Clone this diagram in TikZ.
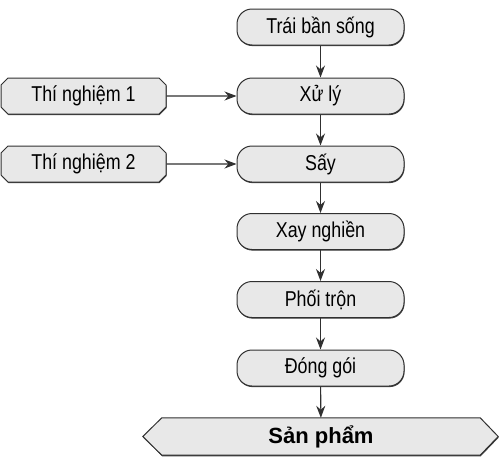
\documentclass[tikz,border=0pt]{standalone}
\usepackage{fontspec}
\setmainfont{Liberation Sans}
\newfontfamily\narrowfont[FakeStretch=0.83]{Liberation Sans}
\usetikzlibrary{shapes.misc,shadows,backgrounds,arrows.meta}
\definecolor{boxfill}{HTML}{E8E8E8}
\definecolor{boxline}{HTML}{303030}
\tikzset{
  boxshadow/.style={drop shadow={shadow xshift=0.5pt,shadow yshift=-1.1pt,fill=black!75,opacity=1}},
  mainbox/.style={draw=boxline, fill=boxfill, line width=1pt, rounded corners=15pt,
    minimum width=167pt, minimum height=36pt, inner sep=0pt, boxshadow,
    font=\narrowfont\fontsize{21.5}{24}\selectfont},
  sidebox/.style={draw=boxline, fill=boxfill, line width=1pt, chamfered rectangle,
    chamfered rectangle xsep=3.5pt, chamfered rectangle ysep=3.5pt,
    minimum width=165pt, minimum height=36pt, inner sep=0pt, boxshadow,
    font=\narrowfont\fontsize{21.5}{24}\selectfont},
  flow/.style={draw=boxline, line width=1.1pt, -{Stealth[length=12pt,width=9pt]}},
}
\begin{document}
\begin{tikzpicture}[x=1pt,y=-1pt]
\useasboundingbox (0,0) rectangle (500,463);
\node[mainbox] (a) at (320.5,27) {Trái bần sống};
\node[mainbox] (b) at (320.5,96) {Xử lý};
\node[mainbox] (c) at (320.5,164) {Sấy};
\node[mainbox] (d) at (320.5,231.5) {Xay nghiền};
\node[mainbox] (e) at (320.5,299.5) {Phối trộn};
\node[mainbox] (f) at (320.5,368) {Đóng gói};
\node[sidebox] (t1) at (83.5,96) {Thí nghiệm 1};
\node[sidebox] (t2) at (83.5,164) {Thí nghiệm 2};
\node[minimum width=318pt, minimum height=37pt, inner sep=0pt,
  font=\bfseries\fontsize{22}{24}\selectfont] (p) at (321,436.5) {Sản phẩm};
\begin{scope}[on background layer]
\draw[draw=boxline, fill=boxfill, line width=1pt, boxshadow]
  (p.north west) -- (p.north east) -- ([xshift=18pt]p.east) -- (p.south east)
  -- (p.south west) -- ([xshift=-19pt]p.west) -- cycle;
\end{scope}
\draw[flow] (a) -- (b);
\draw[flow] (b) -- (c);
\draw[flow] (c) -- (d);
\draw[flow] (d) -- (e);
\draw[flow] (e) -- (f);
\draw[flow] (f) -- (p);
\draw[flow] (t1) -- (b);
\draw[flow] (t2) -- (c);
\end{tikzpicture}
\end{document}
